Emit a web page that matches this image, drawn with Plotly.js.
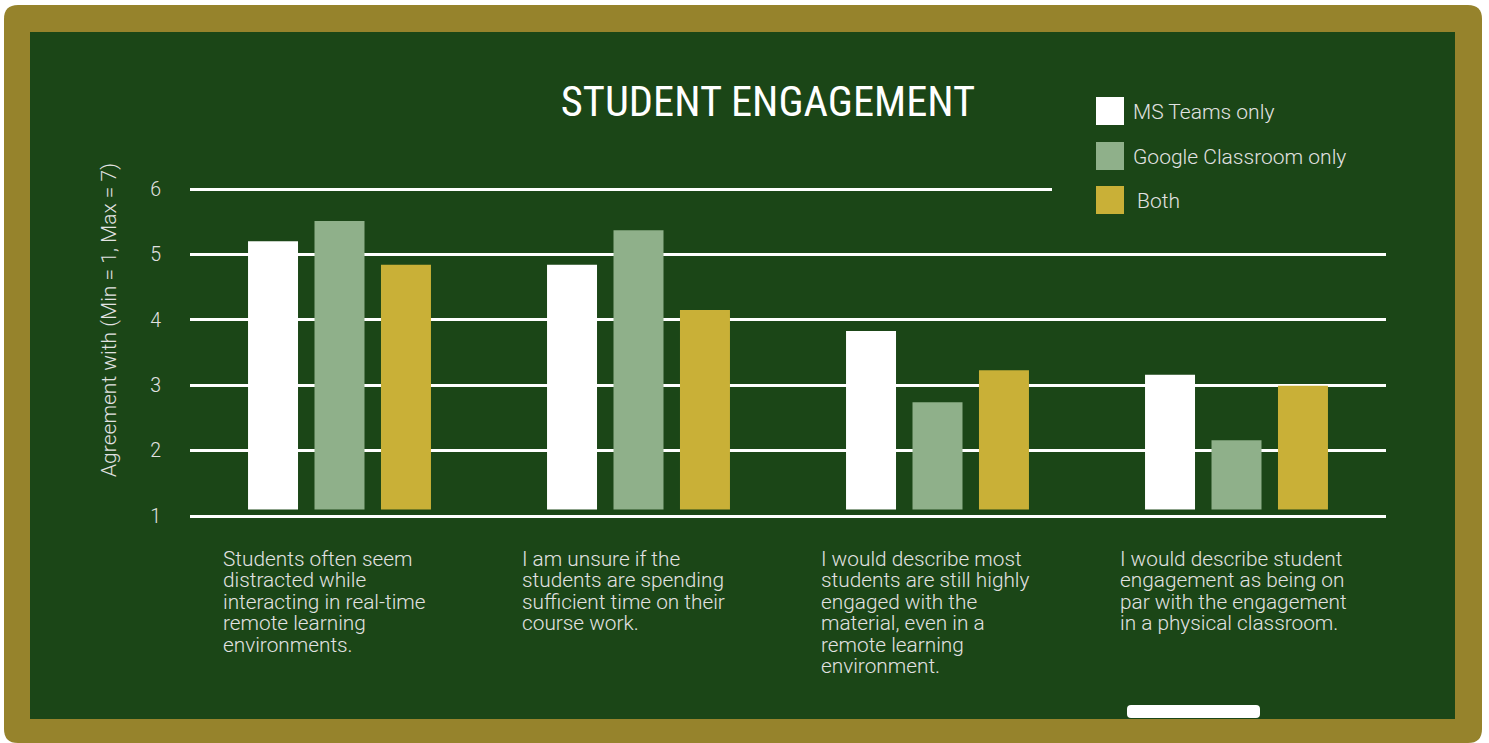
<!DOCTYPE html>
<html><head><meta charset="utf-8">
<script src="https://cdn.plot.ly/plotly-3.0.1.min.js"></script>
<style>html,body{margin:0;padding:0;background:#fff;}#chart{width:1489px;height:743px;}</style>
</head><body><div id="chart"></div>
<script>
// ---- data ----
const seriesNames = ["MS Teams only", "Google Classroom only", "Both"];
const seriesColors = ["#ffffff", "#8fb08a", "#c9b037"];
const catLines = [
  ["Students often seem", "distracted while", "interacting in real-time", "remote learning", "environments."],
  ["I am unsure if the", "students are spending", "sufficient time on their", "course work."],
  ["I would describe most", "students are still highly", "engaged with the", "material, even in a", "remote learning", "environment."],
  ["I would describe student", "engagement as being on", "par with the engagement", "in a physical classroom."]
];
const categories = catLines.map(l => l.join(" "));
const msTeams = [5.20, 4.84, 3.83, 3.16];
const googleClassroom = [5.51, 5.37, 2.74, 2.16];
const both = [4.84, 4.15, 3.23, 2.99];
const barBase = 1.1;
const yTicks = [1, 2, 3, 4, 5, 6];
const titleText = "STUDENT ENGAGEMENT";
const yTitleText = "Agreement with (Min = 1, Max = 7)";

// ---- layout geometry ----
const W = 1489, H = 743;
const UNIT = 65.4, PAD = 3 / UNIT;
const L = 190, R = 103, T = 186, B = 224;
const PW = W - L - R, PH = H - T - B;
const px = x => (x - L) / PW;
const py = y => (H - B - y) / PH;
const BG = "#1b4617", FRAME = "#96832c", TXT = "#e2e2e2";
const FONT = "Roboto, 'Noto Sans', sans-serif";

function roundRect(x0, y0, x1, y1, r) {
  const X = v => px(v).toFixed(5), Y = v => py(v).toFixed(5);
  return `M${X(x0 + r)},${Y(y0)} L${X(x1 - r)},${Y(y0)} Q${X(x1)},${Y(y0)} ${X(x1)},${Y(y0 + r)} ` +
    `L${X(x1)},${Y(y1 - r)} Q${X(x1)},${Y(y1)} ${X(x1 - r)},${Y(y1)} L${X(x0 + r)},${Y(y1)} ` +
    `Q${X(x0)},${Y(y1)} ${X(x0)},${Y(y1 - r)} L${X(x0)},${Y(y0 + r)} Q${X(x0)},${Y(y0)} ${X(x0 + r)},${Y(y0)} Z`;
}

const seriesValues = [msTeams, googleClassroom, both];
const traces = seriesValues.map((vals, i) => ({
  type: "bar",
  name: seriesNames[i],
  x: categories,
  y: vals.map(v => v - barBase),
  base: barBase,
  customdata: vals,
  hovertemplate: "%{customdata}<extra>" + seriesNames[i] + "</extra>",
  marker: { color: seriesColors[i], line: { width: 0 } },
  showlegend: false
}));

const shapes = [
  { type: "path", xref: "paper", yref: "paper", layer: "below", path: roundRect(4, 5, 1482, 743, 14), fillcolor: FRAME, line: { width: 0 } },
  { type: "rect", xref: "paper", yref: "paper", layer: "below", x0: px(30), x1: px(1455), y0: py(719), y1: py(32), fillcolor: BG, line: { width: 0 } },
  { type: "path", xref: "paper", yref: "paper", layer: "below", path: roundRect(1127, 705, 1260, 718, 4), fillcolor: "#ffffff", line: { width: 0 } },
  // legend backdrop
  { type: "rect", xref: "paper", yref: "paper", layer: "above", x0: px(1052), x1: px(1400), y0: py(222), y1: py(85), fillcolor: BG, line: { width: 0 } }
];
const legendY = [111, 156, 200];
const legendTextX = [1131, 1131, 1135];
const annotations = [];
seriesNames.forEach((n, i) => {
  shapes.push({ type: "rect", xref: "paper", yref: "paper", layer: "above",
    x0: px(1096), x1: px(1124), y0: py(legendY[i] + 14), y1: py(legendY[i] - 14),
    fillcolor: seriesColors[i], line: { width: 0 } });
  annotations.push({ xref: "paper", yref: "paper", x: px(legendTextX[i]), y: py(legendY[i] + 1),
    xanchor: "left", yanchor: "middle", showarrow: false, text: n,
    font: { family: FONT, size: 21, color: TXT, weight: 300 } });
});
// category labels, one per line
const lineTop = 559, linePitch = 21.4;
catLines.forEach((lines, ci) => {
  lines.forEach((ln, li) => {
    annotations.push({ xref: "x", yref: "paper", x: categories[ci], xshift: -119,
      y: py(lineTop + li * linePitch), xanchor: "left", yanchor: "middle", align: "left",
      showarrow: false, text: ln, font: { family: FONT, size: 20.8, color: TXT, weight: 300 } });
  });
});
// y-axis title
annotations.push({ xref: "paper", yref: "paper", x: px(109), y: py(320), xanchor: "center", yanchor: "middle",
  textangle: -90, showarrow: false, text: yTitleText, font: { family: FONT, size: 21, color: TXT, weight: 300 } });

const layout = {
  width: W, height: H,
  margin: { l: L, r: R, t: T, b: B, pad: 0 },
  paper_bgcolor: "#ffffff",
  plot_bgcolor: "rgba(0,0,0,0)",
  title: { text: titleText, x: 768 / W, xanchor: "center", y: 1 - 101 / H, yanchor: "middle",
    font: { family: "'Roboto Condensed', 'Liberation Sans Narrow', 'DejaVu Sans Condensed', Roboto, sans-serif", size: 42.5, color: "#ffffff" } },
  barmode: "group",
  bargap: 0.333,
  bargroupgap: 0.248,
  showlegend: false,
  xaxis: { showticklabels: false, showgrid: false, zeroline: false, showline: false, ticks: "", fixedrange: true },
  yaxis: { range: [1 - PAD, 6 + PAD], tickvals: yTicks, ticktext: yTicks.map(String),
    showgrid: true, gridcolor: "#ffffff", gridwidth: 2.5, zeroline: false, showline: false, ticks: "",
    ticklabelstandoff: 28, tickfont: { family: FONT, size: 19.5, color: TXT, weight: 300 }, fixedrange: true },
  shapes: shapes,
  annotations: annotations
};
Plotly.newPlot("chart", traces, layout, { displayModeBar: false, staticPlot: false });
</script></body></html>
